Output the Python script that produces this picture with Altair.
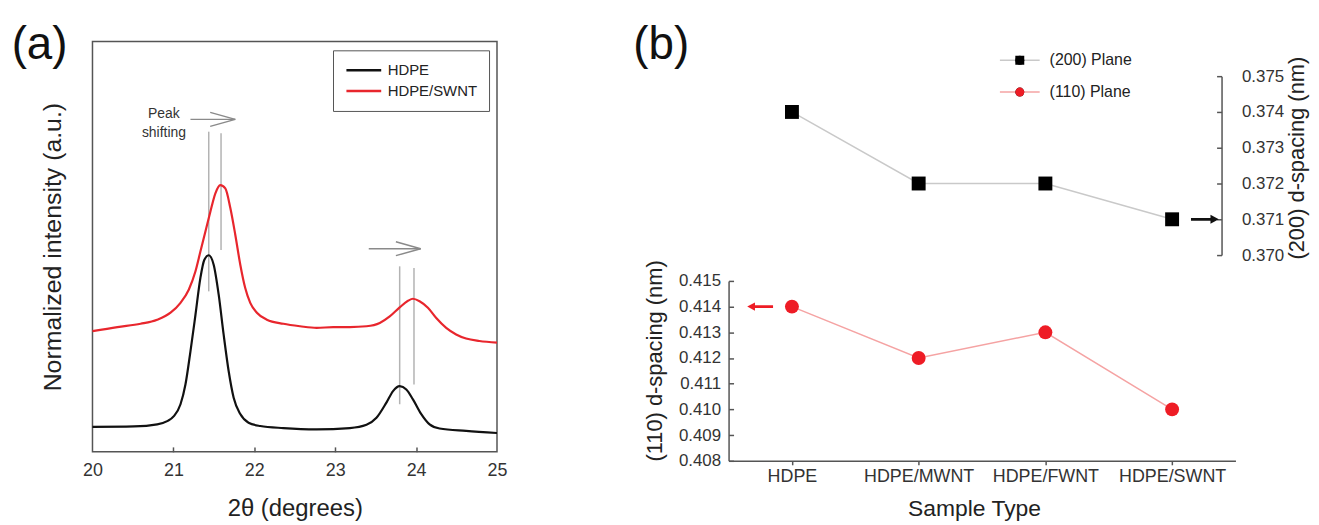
import altair as alt
import pandas as pd

FONT = "Liberation Sans"
W, H = 1311, 517

# ---------------- panel (a): XRD curves ----------------
black_theta = [20.000, 20.513, 20.800, 20.924, 21.006, 21.088, 21.149, 21.211, 21.273, 21.334,
               21.383, 21.437, 21.498, 21.560, 21.621, 21.683, 21.745, 21.827, 21.929, 22.073,
               22.360, 22.771, 23.181, 23.387, 23.510, 23.633, 23.715, 23.797, 23.879, 23.961,
               24.064, 24.167, 24.290, 24.618, 25.000]
black_int = [0.061, 0.062, 0.067, 0.075, 0.087, 0.116, 0.164, 0.245, 0.334, 0.424,
             0.468, 0.479, 0.456, 0.383, 0.286, 0.197, 0.132, 0.092, 0.071, 0.063,
             0.058, 0.055, 0.058, 0.066, 0.083, 0.120, 0.148, 0.160, 0.152, 0.128,
             0.092, 0.067, 0.057, 0.051, 0.046]
red_theta = [20.000, 20.308, 20.595, 20.800, 20.965, 21.088, 21.190, 21.273, 21.334, 21.396,
             21.457, 21.519, 21.580, 21.642, 21.704, 21.765, 21.827, 21.888, 21.950, 22.032,
             22.155, 22.360, 22.566, 22.771, 22.976, 23.181, 23.387, 23.551, 23.674, 23.797,
             23.900, 23.961, 24.043, 24.146, 24.249, 24.372, 24.495, 24.618, 24.782, 25.000]
red_int = [0.294, 0.304, 0.312, 0.322, 0.339, 0.363, 0.395, 0.440, 0.488, 0.537,
           0.585, 0.630, 0.650, 0.642, 0.594, 0.529, 0.456, 0.399, 0.363, 0.339,
           0.322, 0.312, 0.306, 0.302, 0.304, 0.304, 0.306, 0.314, 0.330, 0.352,
           0.368, 0.373, 0.367, 0.351, 0.326, 0.302, 0.286, 0.276, 0.270, 0.266]
series_names = ["HDPE", "HDPE/SWNT"]
series_colors = ["#111111", "#e8262d"]

x_ticks = [20, 21, 22, 23, 24, 25]
inner_ticks = [21, 22, 23, 24]

# peak position markers (vertical gray lines)
peak_theta = [21.437, 21.589, 23.797, 23.974]
peak_lo = [0.391, 0.492, 0.116, 0.164]
peak_hi = [0.780, 0.776, 0.452, 0.448]

# "peak shifting" arrows (shaft + two head strokes each)
arrow_x1 = [21.211, 21.765, 21.765, 23.415, 24.056, 24.056]
arrow_x2 = [21.765, 21.455, 21.455, 24.056, 23.750, 23.750]
arrow_y1 = [0.810, 0.810, 0.810, 0.495, 0.495, 0.495]
arrow_y2 = [0.810, 0.827, 0.793, 0.495, 0.512, 0.478]

note_text = ["Peak", "shifting"]
note_theta = [20.883, 20.883]
note_int = [0.824, 0.776]

panel_text = ["(a)", "(b)"]
panel_theta = [19.346, 27.03]
panel_int = [0.99, 0.99]

# ---------------- panel (b): d-spacing ----------------
samples = ["HDPE", "HDPE/MWNT", "HDPE/FWNT", "HDPE/SWNT"]
d200 = [0.374, 0.372, 0.372, 0.371]
d110 = [0.414, 0.412, 0.413, 0.410]
planes = ["(200) Plane", "(110) Plane"]
d200_ticks = [0.370, 0.371, 0.372, 0.373, 0.374, 0.375]
d110_ticks = [0.408, 0.409, 0.410, 0.411, 0.412, 0.413, 0.414, 0.415]

LEFT_ARROW = "M1,-0.1L-0.4,-0.1L-0.4,-0.32L-1,0L-0.4,0.32L-0.4,0.1L1,0.1Z"
RIGHT_ARROW = "M-1,-0.1L0.4,-0.1L0.4,-0.32L1,0L0.4,0.32L0.4,0.1L-1,0.1Z"

# ---------------- data tables ----------------
xrd = pd.DataFrame({
    "theta": black_theta + red_theta,
    "intensity": black_int + red_int,
    "series": [series_names[0]] * len(black_theta) + [series_names[1]] * len(red_theta),
})
frame_df = pd.DataFrame({"x0": [x_ticks[0]], "x1": [x_ticks[-1]], "y0": [0.0], "y1": [1.0]})
peaks_df = pd.DataFrame({"theta": peak_theta, "lo": peak_lo, "hi": peak_hi})
arrows_df = pd.DataFrame({"x1": arrow_x1, "x2": arrow_x2, "y1": arrow_y1, "y2": arrow_y2})
notes_df = pd.DataFrame({"label": note_text, "theta": note_theta, "intensity": note_int})
panels_df = pd.DataFrame({"label": panel_text, "theta": panel_theta, "intensity": panel_int})

up_df = pd.DataFrame({"sample": samples, "d": d200, "plane": planes[0], "marker": planes[0]})
low_df = pd.DataFrame({"sample": samples, "d": d110, "plane": planes[1], "marker": planes[1]})
up_arrow_df = pd.DataFrame({"sample": [samples[3]], "d": [d200[3]]})
low_arrow_df = pd.DataFrame({"sample": [samples[0]], "d": [d110[0]]})

# ---------------- scales ----------------
AX = alt.Scale(domain=[20, 25], range=[85, 492], nice=False, zero=False)
AY = alt.Scale(domain=[0, 1], range=[445, 32], nice=False, zero=False)
BX = alt.Scale(type="point", domain=samples, range=[725, 1235], padding=0.5)
BYU = alt.Scale(domain=[0.370, 0.375], range=[247, 67], nice=False, zero=False)
BYL = alt.Scale(domain=[0.408, 0.415], range=[454, 273], nice=False, zero=False)

TXT = "#333333"
AXC = "#555555"
title_kw = dict(titleFont=FONT, titleFontWeight="normal", titleColor="#222222")

# ---------------- axes ----------------
ax_a_x = alt.Axis(orient="bottom", offset=-(H - 445), values=x_ticks, format="d", ticks=False,
                  domain=False, grid=False, labelFlush=False, labelFontSize=18, labelColor=TXT,
                  labelPadding=10, labelFont=FONT, title="2θ (degrees)", titleFontSize=24,
                  titlePadding=17, **title_kw)
ax_a_inner = alt.Axis(orient="top", offset=-445, values=inner_ticks, labels=False, domain=False,
                      grid=False, ticks=True, tickSize=5, tickWidth=1.5, tickColor=AXC, title=None)
ax_a_y = alt.Axis(orient="left", offset=-85, labels=False, ticks=False, domain=False, grid=False,
                  title="Normalized intensity (a.u.)", titleFontSize=25, titlePadding=27, **title_kw)

ax_b_x = alt.Axis(orient="bottom", offset=-(H - 454), labelAngle=0, domainColor=AXC, domainWidth=1.5,
                  ticks=True, tickSize=4, tickWidth=1.5, tickColor=AXC, grid=False, labelFontSize=18,
                  labelFont=FONT, labelColor=TXT, labelPadding=3, title="Sample Type",
                  titleFontSize=23, titlePadding=12, titleX=972, **title_kw)
ax_l_left = alt.Axis(orient="left", offset=-725, values=d110_ticks, format=".3f", ticks=False,
                     domainColor=AXC, domainWidth=1.5, grid=False, labelFontSize=17, labelFont=FONT,
                     labelColor=TXT, labelPadding=8, labelOverlap=False,
                     title="(110) d-spacing (nm)", titleFontSize=22, titlePadding=12, titleY=353,
                     **title_kw)
ax_l_ticks = alt.Axis(orient="right", offset=-(W - 725), values=d110_ticks, labels=False,
                      domain=False, grid=False, tickSize=5, tickWidth=1.5, tickColor=AXC, title=None)
ax_u_right = alt.Axis(orient="right", offset=-(W - 1221), values=d200_ticks, format=".3f",
                      ticks=False, domainColor=AXC, domainWidth=1.5, grid=False, labelFontSize=17,
                      labelFont=FONT, labelColor=TXT, labelPadding=20, labelOverlap=False,
                      title="(200) d-spacing (nm)", titleFontSize=22, titleAngle=270,
                      titleBaseline="top", titlePadding=3, titleY=149, **title_kw)
ax_u_ticks = alt.Axis(orient="left", offset=-1221, values=d200_ticks, labels=False, domain=False,
                      grid=False, tickSize=5, tickWidth=1.5, tickColor=AXC, title=None)

# ---------------- legends ----------------
leg_a = alt.Legend(orient="none", legendX=327, legendY=41, title=None, padding=12,
                   strokeColor=AXC, symbolType="stroke", symbolSize=1225, symbolStrokeWidth=2.5,
                   clipHeight=16, rowPadding=5, labelFontSize=15, labelOffset=5,
                   labelFont=FONT, labelColor="#222222")
leg_b_lines = alt.Legend(orient="none", legendX=997, legendY=43, title=None, padding=0,
                         symbolType="stroke", symbolSize=1600, symbolStrokeWidth=1.5,
                         clipHeight=16, rowPadding=16, labelFontSize=16, labelOffset=9,
                         labelFont=FONT, labelColor="#222222")
leg_b_marks = alt.Legend(orient="none", legendX=997, legendY=43, title=None, padding=0,
                         symbolSize=81, symbolStrokeWidth=0, symbolOffset=13, symbolOpacity=1,
                         clipHeight=16, rowPadding=16, labelFontSize=16, labelOffset=9,
                         labelFont=FONT, labelExpr="''")

# ---------------- panel (a) layers ----------------
frame = alt.Chart(frame_df).mark_rect(fill="transparent", stroke=AXC, strokeWidth=1.5).encode(
    x=alt.X("x0:Q", scale=AX, axis=ax_a_x), x2="x1:Q",
    y=alt.Y("y0:Q", scale=AY, axis=ax_a_y), y2="y1:Q")

curves = alt.Chart(xrd).mark_line(interpolate="monotone", strokeWidth=2.2).encode(
    x=alt.X("theta:Q", scale=AX, axis=ax_a_inner),
    y=alt.Y("intensity:Q", scale=AY, axis=None),
    stroke=alt.Stroke("series:N", scale=alt.Scale(domain=series_names, range=series_colors),
                      legend=leg_a))

peak_rules = alt.Chart(peaks_df).mark_rule(color="#b3b3b3", strokeWidth=1.5).encode(
    x=alt.X("theta:Q", scale=AX, axis=None),
    y=alt.Y("lo:Q", scale=AY, axis=None), y2="hi:Q")

arrow_rules = alt.Chart(arrows_df).mark_rule(color="#8a8a8a", strokeWidth=1.5).encode(
    x=alt.X("x1:Q", scale=AX, axis=None), x2="x2:Q",
    y=alt.Y("y1:Q", scale=AY, axis=None), y2="y2:Q")

notes = alt.Chart(notes_df).mark_text(font=FONT, fontSize=14, color=TXT).encode(
    x=alt.X("theta:Q", scale=AX, axis=None),
    y=alt.Y("intensity:Q", scale=AY, axis=None), text="label:N")

panels = alt.Chart(panels_df).mark_text(font=FONT, fontSize=46, color="#111111").encode(
    x=alt.X("theta:Q", scale=AX, axis=None),
    y=alt.Y("intensity:Q", scale=AY, axis=None), text="label:N")

# ---------------- panel (b) layers ----------------
line_color = alt.Color("plane:N", scale=alt.Scale(domain=planes, range=["#c9c9c9", "#f5a3a3"]),
                       legend=leg_b_lines)
mark_fill = alt.Fill("marker:N", sort=planes, scale=alt.Scale(range=["#000000", "#ee1c25"]),
                     legend=leg_b_marks)
mark_shape = alt.Shape("marker:N", sort=planes, scale=alt.Scale(range=["square", "circle"]),
                       legend=leg_b_marks)

up_line = alt.Chart(up_df).mark_line(strokeWidth=1.5).encode(
    x=alt.X("sample:N", scale=BX, axis=None),
    y=alt.Y("d:Q", scale=BYU, axis=ax_u_right), color=line_color)
up_pts = alt.Chart(up_df).mark_point(filled=True, size=196, opacity=1, strokeWidth=0).encode(
    x=alt.X("sample:N", scale=BX, axis=None),
    y=alt.Y("d:Q", scale=BYU, axis=ax_u_ticks), fill=mark_fill, shape=mark_shape)
up_arrow = alt.Chart(up_arrow_df).mark_point(shape=RIGHT_ARROW, filled=True, size=784, opacity=1,
                                             color="#111111", strokeWidth=0, xOffset=33).encode(
    x=alt.X("sample:N", scale=BX, axis=None),
    y=alt.Y("d:Q", scale=BYU, axis=None))

low_line = alt.Chart(low_df).mark_line(strokeWidth=1.5).encode(
    x=alt.X("sample:N", scale=BX, axis=ax_b_x),
    y=alt.Y("d:Q", scale=BYL, axis=ax_l_left), color=line_color)
low_pts = alt.Chart(low_df).mark_point(filled=True, size=196, opacity=1, strokeWidth=0).encode(
    x=alt.X("sample:N", scale=BX, axis=None),
    y=alt.Y("d:Q", scale=BYL, axis=ax_l_ticks), fill=mark_fill, shape=mark_shape)
low_arrow = alt.Chart(low_arrow_df).mark_point(shape=LEFT_ARROW, filled=True, size=676, opacity=1,
                                               color="#ee1c25", strokeWidth=0, xOffset=-32).encode(
    x=alt.X("sample:N", scale=BX, axis=None),
    y=alt.Y("d:Q", scale=BYL, axis=None))

chart = (
    alt.layer(frame, peak_rules, arrow_rules, curves, notes, panels,
              up_line, low_line, up_pts, low_pts, up_arrow, low_arrow)
    .resolve_scale(x="independent", y="independent")
    .properties(width=W, height=H, padding=0, autosize=alt.AutoSizeParams(type="none"))
    .configure(font=FONT)
    .configure_view(strokeWidth=0)
)

chart.save("out.html", embed_options={"renderer": "svg", "actions": False})
